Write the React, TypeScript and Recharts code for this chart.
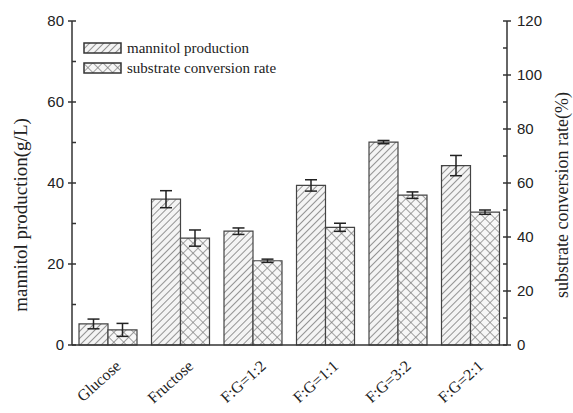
import React from "react";
import { BarChart, Bar, XAxis, YAxis, ErrorBar } from "recharts";

const categories = ["Glucose", "Fructose", "F:G=1:2", "F:G=1:1", "F:G=3:2", "F:G=2:1"];
const mannitol = [5.2, 36.0, 28.1, 39.4, 50.1, 44.3];
const mannitolErr = [1.2, 2.1, 0.8, 1.4, 0.4, 2.5];
const conversion = [5.6, 39.6, 31.2, 43.6, 55.5, 49.2];
const conversionErr = [2.4, 3.0, 0.6, 1.5, 1.2, 0.8];

const leftTicks = [0, 10, 20, 30, 40, 50, 60, 70, 80];
const rightTicks = [0, 10, 20, 30, 40, 50, 60, 70, 80, 90, 100, 110, 120];

const data = categories.map((name, i) => ({
  name,
  mannitol: mannitol[i],
  mErr: mannitolErr[i],
  conversion: conversion[i],
  cErr: conversionErr[i],
}));

const W = 573;
const H = 413;
const TOP = 21;
const BOTTOM_H = 68;
const LEFT_W = 72;
const RIGHT_W = 66;
const AXIS = "#333";
const SERIF = "Liberation Serif, Times New Roman, serif";

const LeftTick = (props: any) => {
  const { x, y, payload } = props;
  const v = payload.value;
  const major = v % 20 === 0;
  return (
    <g>
      {major ? (
        <>
          <line x1={x + 4} x2={x + 12} y1={y} y2={y} stroke={AXIS} strokeWidth={1.5} />
          <text x={x} y={y + 5} textAnchor="end" fontSize={15} fontFamily="Liberation Sans, Arial" fill="#222">
            {v}
          </text>
        </>
      ) : (
        <line x1={x + 8} x2={x + 12} y1={y} y2={y} stroke={AXIS} strokeWidth={1.5} />
      )}
    </g>
  );
};

const RightTick = (props: any) => {
  const { x, y, payload } = props;
  const v = payload.value;
  const major = v % 20 === 0;
  return (
    <g>
      {major ? (
        <>
          <line x1={x - 12} x2={x - 4} y1={y} y2={y} stroke={AXIS} strokeWidth={1.5} />
          <text x={x + 2} y={y + 5} textAnchor="start" fontSize={15} fontFamily="Liberation Sans, Arial" fill="#222">
            {v}
          </text>
        </>
      ) : (
        <line x1={x - 12} x2={x - 8} y1={y} y2={y} stroke={AXIS} strokeWidth={1.5} />
      )}
    </g>
  );
};

const legendItems = [
  { label: "mannitol production", fill: "url(#hatch)" },
  { label: "substrate conversion rate", fill: "url(#cross)" },
];

export default function App() {
  return (
    <div style={{ position: "absolute", left: 0, top: 0, width: W, height: H, background: "#fff" }}>
      <BarChart
        width={W}
        height={H}
        data={data}
        margin={{ top: TOP, right: 0, bottom: 0, left: 0 }}
        barGap={0}
        barSize={29}
      >
        <defs>
          <pattern id="hatch" patternUnits="userSpaceOnUse" width={5} height={5} patternTransform="rotate(45)">
            <rect width={5} height={5} fill="#f4f4f4" />
            <line x1={0} y1={0} x2={0} y2={5} stroke="#7a7a7a" strokeWidth={1.6} />
          </pattern>
          <pattern id="cross" patternUnits="userSpaceOnUse" width={7} height={7} patternTransform="rotate(45)">
            <rect width={7} height={7} fill="#f7f7f7" />
            <line x1={0} y1={0} x2={0} y2={7} stroke="#7a7a7a" strokeWidth={1.4} />
            <line x1={0} y1={0} x2={7} y2={0} stroke="#7a7a7a" strokeWidth={1.4} />
          </pattern>
        </defs>
        <XAxis
          dataKey="name"
          xAxisId="bottom"
          height={BOTTOM_H}
          interval={0}
          angle={-42}
          textAnchor="end"
          tickLine={false}
          tickSize={8}
          tickMargin={6}
          axisLine={{ stroke: AXIS, strokeWidth: 1.5 }}
          tick={{ fontSize: 16, fontFamily: SERIF, fill: "#222", dx: 6 }}
        />
        <XAxis
          dataKey="name"
          xAxisId="top"
          orientation="top"
          height={0}
          tick={false}
          tickLine={false}
          axisLine={{ stroke: AXIS, strokeWidth: 1.5 }}
        />
        <YAxis
          yAxisId="left"
          width={LEFT_W}
          domain={[0, 80]}
          ticks={leftTicks}
          interval={0}
          tickLine={false}
          axisLine={{ stroke: AXIS, strokeWidth: 1.5 }}
          tick={<LeftTick />}
          label={{
            content: ({ viewBox }: any) => {
              const cx = viewBox.x + 20;
              const cy = viewBox.y + viewBox.height / 2 + 32;
              return (
                <text
                  x={cx}
                  y={cy}
                  textAnchor="middle"
                  dominantBaseline="central"
                  fontSize={19}
                  fontFamily={SERIF}
                  fill="#222"
                  transform={`rotate(-90, ${cx}, ${cy})`}
                >
                  mannitol production(g/L)
                </text>
              );
            },
          }}
        />
        <YAxis
          yAxisId="right"
          orientation="right"
          width={RIGHT_W}
          domain={[0, 120]}
          ticks={rightTicks}
          interval={0}
          tickLine={false}
          axisLine={{ stroke: AXIS, strokeWidth: 1.5 }}
          tick={<RightTick />}
          label={{
            content: ({ viewBox }: any) => {
              const cx = viewBox.x + 55;
              const cy = viewBox.y + viewBox.height / 2 + 12;
              return (
                <text
                  x={cx}
                  y={cy}
                  textAnchor="middle"
                  dominantBaseline="central"
                  fontSize={18}
                  fontFamily={SERIF}
                  fill="#222"
                  transform={`rotate(-90, ${cx}, ${cy})`}
                >
                  substrate conversion rate(%)
                </text>
              );
            },
          }}
        />
        <Bar
          dataKey="mannitol"
          xAxisId="bottom"
          yAxisId="left"
          fill="url(#hatch)"
          stroke="#444"
          strokeWidth={1.2}
          isAnimationActive={false}
        >
          <ErrorBar dataKey="mErr" width={6} stroke="#222" strokeWidth={1.5} />
        </Bar>
        <Bar
          dataKey="conversion"
          xAxisId="bottom"
          yAxisId="right"
          fill="url(#cross)"
          stroke="#444"
          strokeWidth={1.2}
          isAnimationActive={false}
        >
          <ErrorBar dataKey="cErr" width={6} stroke="#222" strokeWidth={1.5} />
        </Bar>
      </BarChart>
      <div style={{ position: "absolute", left: 83, top: 38 }}>
        {legendItems.map((it) => (
          <div key={it.label} style={{ display: "flex", alignItems: "center", height: 20 }}>
            <svg width={40} height={12}>
              <rect x={1} y={1} width={37} height={10} fill={it.fill} stroke="#333" strokeWidth={1.5} />
            </svg>
            <span style={{ fontFamily: SERIF, fontSize: 15, color: "#222", marginLeft: 4 }}>{it.label}</span>
          </div>
        ))}
      </div>
    </div>
  );
}
